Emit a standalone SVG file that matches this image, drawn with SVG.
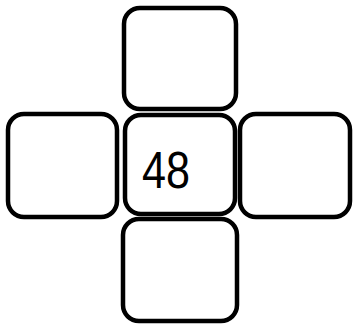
<svg xmlns="http://www.w3.org/2000/svg" width="353" height="327" viewBox="0 0 353 327">
<style>
.box{fill:#fff;stroke:#000;stroke-width:4.5}
.lbl{font-family:"Liberation Sans","DejaVu Sans",sans-serif;font-size:52px;fill:#000}
</style>
<rect width="353" height="327" fill="#fff"/>
<g id="top"><rect class="box" x="124" y="8" width="112" height="101" rx="16"/></g>
<g id="left"><rect class="box" x="8" y="114" width="109" height="103" rx="16"/></g>
<g id="right"><rect class="box" x="240" y="114" width="110" height="103" rx="16"/></g>
<g id="bottom"><rect class="box" x="123" y="219" width="114" height="102" rx="16"/></g>
<g id="center"><rect class="box" x="125" y="115" width="110" height="99" rx="16"/>
<text class="lbl" x="142" y="188" textLength="48" lengthAdjust="spacingAndGlyphs">48</text></g>
<g id="connectors"/>
</svg>
